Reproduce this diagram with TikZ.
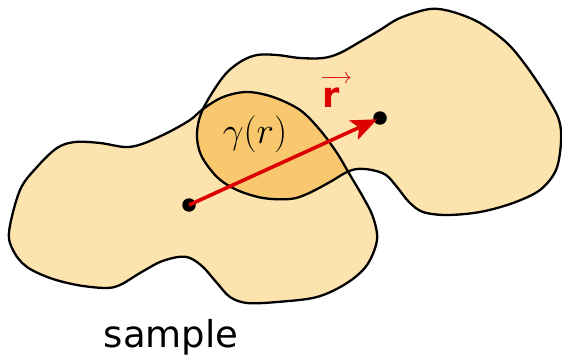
\RequirePackage{fix-cm}
\documentclass[tikz,border=0pt]{standalone}
\usepackage{fontspec}
\usepackage{amsmath}
\newfontfamily\labelsans{DejaVu Sans}
\usetikzlibrary{arrows.meta}
\definecolor{blobfill}{RGB}{253,228,174}
\definecolor{overlapfill}{RGB}{249,200,110}
\definecolor{vecred}{RGB}{221,0,0}
\newcommand\leftblobpath{plot[smooth cycle,tension=0.55] coordinates {
 (9,232) (20,190) (37,167) (57,148) (75,142) (100,143) (125,147) (142,144)
 (167,133) (190,120) (203,109) (223,97) (247,92) (273,97) (300,110) (320,130)
 (337,153) (350,175) (363,197) (373,217) (377,240) (367,265) (347,283)
 (317,297) (277,302) (247,303) (230,297) (217,283) (203,267) (190,258)
 (178,257) (160,262) (140,273) (120,285) (105,288) (77,285) (50,278)
 (27,267) (14,252)}}
\newcommand\rightblobpath{plot[smooth cycle,tension=0.55] coordinates {
 (197,133) (203,109) (223,77) (240,62) (257,55) (277,55) (300,58) (323,58)
 (340,53) (363,40) (380,30) (400,18) (430,9) (453,12) (480,23) (507,43)
 (527,67) (547,97) (559,120) (561,142) (556,170) (540,190) (513,203)
 (480,212) (447,215) (423,212) (409,202) (397,187) (386,175) (372,170)
 (357,169) (345,173) (330,182) (307,194) (290,199) (263,198) (237,190)
 (217,177) (201,155)}}
\begin{document}
\begin{tikzpicture}[x=1pt,y=-1pt,
  outline/.style={draw=black,line width=2.3pt},
  dotnode/.style={circle,fill=black,inner sep=0pt,minimum size=13.5pt},
  vecarrow/.style={draw=vecred,line width=3.6pt,shorten >=3pt,-{Stealth[length=26pt 0 0,width=21pt 0 0,inset=6pt 0]}},
  gammalabel/.style={inner sep=0pt,anchor=base,font=\fontsize{37}{40}\selectfont},
  veclabel/.style={inner sep=0pt,anchor=base west,text=vecred},
  samplelabel/.style={inner sep=0pt,anchor=base,font=\labelsans\fontsize{37}{40}\selectfont}]
\useasboundingbox (0,0) rectangle (562,356);
\fill[blobfill] \leftblobpath;
\fill[blobfill] \rightblobpath;
\begin{scope}
  \clip \leftblobpath;
  \fill[overlapfill] \rightblobpath;
\end{scope}
\draw[outline] \leftblobpath;
\draw[outline] \rightblobpath;
\node[gammalabel] (gam) at (255,143) {$\gamma(r)$};
\node[veclabel] (rvec) at (320,107) {\fontsize{22}{24}\selectfont$\overrightarrow{\hbox to 32pt{\vrule width 0pt height 24pt\kern2pt\labelsans\bfseries\fontsize{35}{38}\selectfont r\hfil}}$};
\node[dotnode] (p1) at (189,205) {};
\node[dotnode] (p2) at (380,118) {};
\draw[vecarrow] (p1.center) -- (p2.center);
\node[samplelabel] (sample) at (171,347) {sample};
\end{tikzpicture}
\end{document}
